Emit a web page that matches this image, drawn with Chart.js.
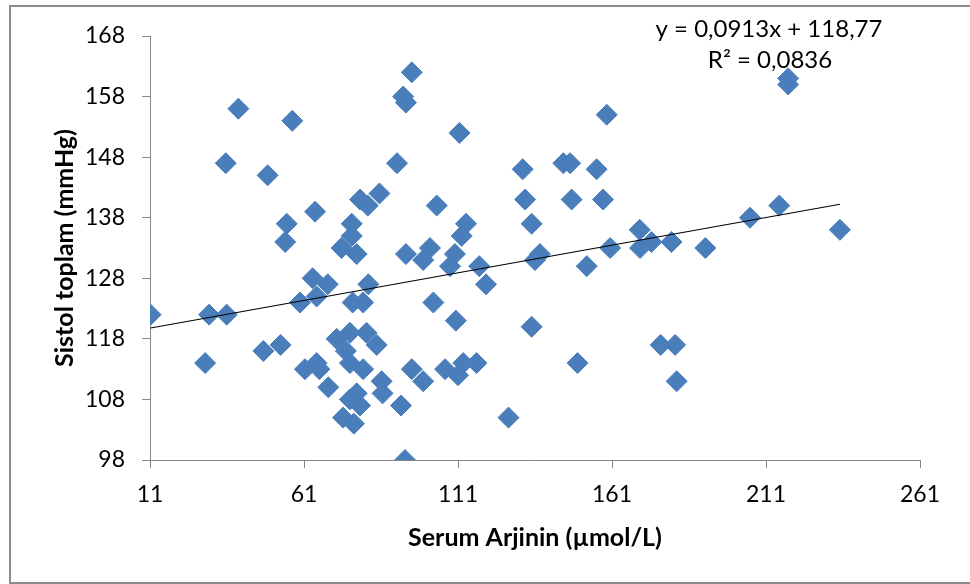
<!DOCTYPE html>
<html>
<head>
<meta charset="utf-8">
<script src="https://cdn.jsdelivr.net/npm/chart.js@4.4.1/dist/chart.umd.min.js"></script>
<style>
  html, body { margin: 0; padding: 0; background: #fff; }
  #wrap { width: 970px; height: 584px; position: relative; }
</style>
</head>
<body>
<div id="wrap"><canvas id="fitChart"></canvas></div>
<script>
// serum arjinin (x) and sistol toplam (y)
var arjinin = [11.2, 30.2, 35.9, 28.9, 35.6, 39.7, 47.8, 49.2, 53.4, 55.4,
    54.9, 57.2, 59.7, 61.3, 65.1, 66.0, 63.8, 65.1, 64.6, 68.7,
    68.9, 71.6, 73.2, 73.7, 74.6, 75.9, 75.9, 75.9, 76.5, 76.5,
    76.8, 77.2, 78.1, 78.1, 79.2, 79.2, 80.2, 80.2, 81.3, 81.7,
    81.9, 84.6, 85.5, 86.2, 86.5, 91.2, 92.5, 93.2, 94.1, 94.1,
    93.8, 96.0, 96.0, 99.7, 99.7, 101.9, 103.0, 104.1, 106.8, 108.4,
    110.0, 110.3, 111.0, 111.5, 112.2, 112.7, 113.6, 117.0, 117.9, 120.1,
    127.4, 132.0, 132.8, 134.9, 134.9, 136.0, 137.6, 145.2, 147.4, 147.9,
    149.8, 152.8, 156.0, 158.1, 159.3, 160.4, 170.0, 170.1, 173.8, 176.8,
    180.3, 181.5, 182.0, 191.3, 205.8, 215.3, 218.2, 218.2, 235.0];
var sistol = [122, 122, 122, 114, 147, 156, 116, 145, 117, 137,
    134, 154, 124, 113, 114, 113, 128, 125, 139, 127,
    110, 118, 133, 105, 116, 119, 114, 108, 137, 135,
    124, 104, 132, 109, 107, 141, 124, 113, 119, 140,
    127, 117, 142, 111, 109, 147, 107, 158, 157, 132,
    98, 162, 113, 131, 111, 133, 124, 140, 113, 130,
    132, 121, 112, 152, 135, 114, 137, 114, 130, 127,
    105, 146, 141, 137, 120, 131, 132, 147, 147, 141,
    114, 130, 146, 141, 155, 133, 136, 133, 134, 117,
    134, 117, 111, 133, 138, 140, 161, 160, 136];

var xTicks = [11, 61, 111, 161, 211, 261];
var yTicks = [98, 108, 118, 128, 138, 148, 158, 168];

// trend line as shown in the figure
var trendSlope = 0.0913;
var trendIntercept = 118.77;
var equationText = 'y = 0,0913x + 118,77';
var r2Text = 'R² = 0,0836';

var axisColor = '#868686';
var markerColor = '#4A7EBB';

var points = arjinin.map(function (x, i) { return {x: x, y: sistol[i]}; });
var xMin = Math.min.apply(null, arjinin);
var xMax = Math.max.apply(null, arjinin);
var trendPoints = [
    {x: xMin, y: trendIntercept + trendSlope * xMin},
    {x: xMax, y: trendIntercept + trendSlope * xMax}
];

// frame round the whole chart and the equation text
var decor = {
    id: 'decor',
    beforeDraw: function (chart) {
        var c = chart.ctx;
        c.save();
        c.strokeStyle = '#8c8c8c';
        c.lineWidth = 2;
        c.strokeRect(10, 6, 980, 577);
        c.restore();
    },
    afterDraw: function (chart) {
        var c = chart.ctx;
        c.save();
        c.fillStyle = '#000';
        c.font = '24px Lato';
        c.textAlign = 'center';
        c.textBaseline = 'middle';
        c.fillText(equationText, 769, 29);
        c.fillText(r2Text, 770, 60);
        c.restore();
    }
};

var ctx = document.getElementById('fitChart').getContext('2d');
new Chart(ctx, {
    type: 'scatter',
    data: {
        datasets: [{
            type: 'line',
            data: trendPoints,
            borderColor: '#000',
            borderWidth: 1.2,
            pointRadius: 0,
            fill: false,
            order: 0
        }, {
            data: points,
            pointStyle: 'rectRot',
            pointRadius: 10.5,
            pointHoverRadius: 10.5,
            backgroundColor: markerColor,
            borderColor: markerColor,
            borderWidth: 1,
            order: 1
        }]
    },
    options: {
        responsive: true,
        maintainAspectRatio: false,
        animation: false,
        layout: {padding: {left: 46, top: 36, right: 50, bottom: 27}},
        plugins: {legend: {display: false}, tooltip: {enabled: false}},
        scales: {
            x: {
                type: 'linear',
                min: 11,
                max: 261,
                afterBuildTicks: function (s) { s.ticks = xTicks.map(function (v) { return {value: v}; }); },
                afterFit: function (s) { s.height = 97; },
                grid: {drawOnChartArea: false, drawTicks: true, tickLength: 8, color: axisColor},
                border: {color: axisColor, width: 1},
                ticks: {color: '#000', padding: 13, font: {family: 'Lato', size: 23}},
                title: {display: true, text: 'Serum Arjinin (µmol/L)', color: '#000',
                    font: {family: 'Lato', size: 25, weight: 'bold'}}
            },
            y: {
                type: 'linear',
                min: 98,
                max: 168,
                afterBuildTicks: function (s) { s.ticks = yTicks.map(function (v) { return {value: v}; }); },
                afterFit: function (s) { s.width = 104; },
                grid: {drawOnChartArea: false, drawTicks: true, tickLength: 8, color: axisColor},
                border: {color: axisColor, width: 1},
                ticks: {color: '#000', padding: 17, font: {family: 'Lato', size: 23}},
                title: {display: true, text: 'Sistol toplam (mmHg)', color: '#000',
                    font: {family: 'Lato', size: 25, weight: 'bold'}}
            }
        }
    },
    plugins: [decor]
});
</script>
</body>
</html>
